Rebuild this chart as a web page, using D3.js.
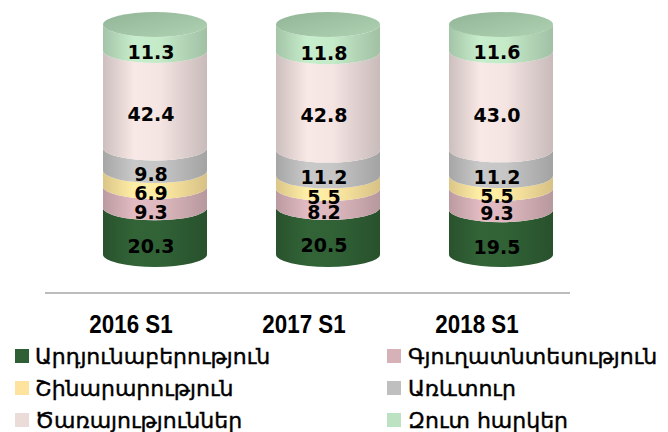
<!DOCTYPE html>
<html>
<head>
<meta charset="utf-8">
<script src="https://cdn.jsdelivr.net/npm/d3@7/dist/d3.min.js"></script>
<style>
  body { margin: 0; background: #fff; }
  svg { display: block; }
</style>
</head>
<body>
<div id="chart"></div>
<script>
const width = 668,
  height = 432;

const categories = ["2016 S1", "2017 S1", "2018 S1"];
const seriesNames = [
  "Արդյունաբերություն",
  "Գյուղատնտեսություն",
  "Շինարարություն",
  "Առևտուր",
  "Ծառայություններ",
  "Զուտ հարկեր"
];
const industry = [20.3, 20.5, 19.5];
const agriculture = [9.3, 8.2, 9.3];
const construction = [6.9, 5.5, 5.5];
const trade = [9.8, 11.2, 11.2];
const services = [42.4, 42.8, 43.0];
const netTaxes = [11.3, 11.8, 11.6];
const colors = ["#2f5f34", "#d6b2b8", "#fde39d", "#bfbfbf", "#ebdcda", "#bde2c1"];

const seriesValues = [industry, agriculture, construction, trade, services, netTaxes];
const rows = categories.map((c, i) => {
  const r = { cat: c };
  seriesNames.forEach((s, j) => (r[s] = seriesValues[j][i]));
  return r;
});
const stacked = d3.stack().keys(seriesNames)(rows);

const rx = 52,
  ry = 12.5;

const xScale = d3.scalePoint().domain(categories).range([155, 501]);
const yScale = d3.scaleLinear().domain([0, 100]).range([254.5, 24.5]);

const svg = d3
  .select("#chart")
  .append("svg")
  .attr("width", width)
  .attr("height", height);

// horizontal shading for the cylinder sides
const defs = svg.append("defs");
colors.forEach((c, i) => {
  const g = defs
    .append("linearGradient")
    .attr("id", "grad" + i)
    .attr("x1", "0%").attr("x2", "100%");
  const base = d3.color(c);
  g.append("stop").attr("offset", "0%").attr("stop-color", base.darker(0.4));
  g.append("stop").attr("offset", "30%").attr("stop-color", base.brighter(0.15));
  g.append("stop").attr("offset", "55%").attr("stop-color", base.brighter(0.1));
  g.append("stop").attr("offset", "100%").attr("stop-color", base.darker(0.45));
});
const topGrad = defs
  .append("linearGradient")
  .attr("id", "gradTop")
  .attr("x1", "0%").attr("x2", "100%")
  .attr("y1", "0%").attr("y2", "100%");
topGrad.append("stop").attr("offset", "0%").attr("stop-color", "#92b597");
topGrad.append("stop").attr("offset", "100%").attr("stop-color", "#afd2b3");

function sidePath(cx, yTop, yBot) {
  return `M${cx - rx},${yTop} A${rx},${ry} 0 0 0 ${cx + rx},${yTop}
    L${cx + rx},${yBot} A${rx},${ry} 0 0 1 ${cx - rx},${yBot} Z`;
}

const bars = svg
  .selectAll(".cyl")
  .data(categories)
  .enter()
  .append("g")
  .attr("class", "cyl");

stacked.forEach((layer, j) => {
  bars
    .append("path")
    .attr("d", (c, i) => sidePath(xScale(c), yScale(layer[i][1]), yScale(layer[i][0])))
    .attr("fill", `url(#grad${j})`);
});

bars
  .append("ellipse")
  .attr("cx", (c) => xScale(c))
  .attr("cy", yScale(100))
  .attr("rx", rx)
  .attr("ry", ry)
  .attr("fill", "url(#gradTop)");

// value labels
stacked.forEach((layer, j) => {
  bars
    .append("text")
    .attr("x", (c) => xScale(c) - 4)
    .attr("y", (c, i) => (yScale(layer[i][0]) + yScale(layer[i][1])) / 2 + ry + 2)
    .attr("text-anchor", "middle")
    .attr("dominant-baseline", "central")
    .attr("font-family", "DejaVu Sans")
    .attr("font-weight", "bold")
    .attr("font-size", 19)
    .attr("fill", "#000")
    .text((c, i) => seriesValues[j][i].toFixed(1));
});

// base line
svg
  .append("line")
  .attr("x1", 45).attr("x2", 570)
  .attr("y1", 293).attr("y2", 293)
  .attr("stroke", "#a6a6a6")
  .attr("stroke-width", 1.5);

svg
  .selectAll(".cat")
  .data(categories)
  .enter()
  .append("text")
  .attr("class", "cat")
  .attr("transform", (c) => `translate(${xScale(c) - 24},333) scale(0.86,1)`)
  .attr("text-anchor", "middle")
  .attr("font-family", "Liberation Sans")
  .attr("font-weight", "bold")
  .attr("font-size", 26)
  .text((c) => c);

const legend = svg
  .selectAll(".leg")
  .data(seriesNames)
  .enter()
  .append("g")
  .attr("class", "leg")
  .attr("transform", (d, i) => `translate(${i % 2 === 0 ? 15 : 387},${356 + Math.floor(i / 2) * 32})`);

legend
  .append("rect")
  .attr("y", -7)
  .attr("width", 14)
  .attr("height", 14)
  .attr("fill", (d, i) => colors[i]);

legend
  .append("text")
  .attr("x", (d, i) => (i % 2 === 0 ? 20 : 21))
  .attr("dominant-baseline", "central")
  .attr("font-family", "DejaVu Sans")
  .attr("font-size", 22)
  .attr("fill", "#000")
  .attr("stroke", "#000")
  .attr("stroke-width", 0.4)
  .text((d) => d);
</script>
</body>
</html>
